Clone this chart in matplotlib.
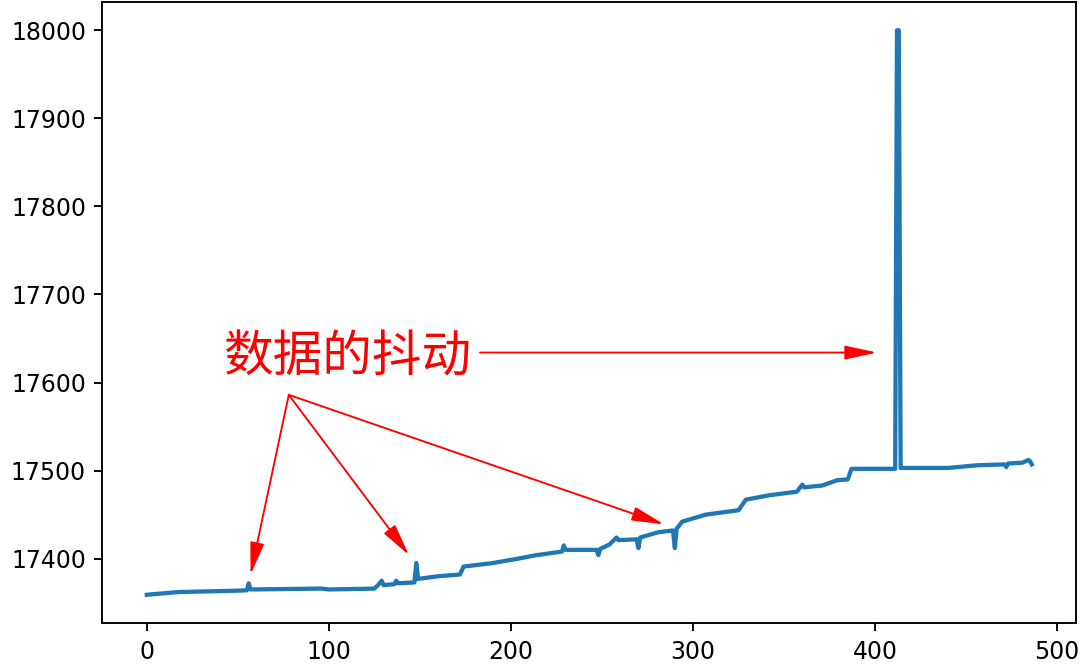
import matplotlib.pyplot as plt

plt.rcParams['font.family'] = ['DejaVu Sans']

# sample index / value pairs
idx = [0, 17, 47, 55, 56, 57, 96, 100, 125, 127, 129, 130, 136, 137, 138,
       147, 148, 149, 160, 172, 174, 190, 204, 214, 228, 229, 230, 247, 248,
       249, 254, 258, 259, 269, 270, 271, 281, 289, 290, 291, 294, 307, 325,
       329, 342, 357, 360, 361, 371, 379, 385, 387, 411, 412, 413, 414, 440,
       456, 471, 472, 473, 481, 484, 485, 486]
vals = [17359, 17362, 17363.5, 17364, 17372, 17365, 17366, 17365, 17366,
        17370, 17375, 17370, 17371, 17375, 17372, 17373, 17395, 17377, 17380,
        17382, 17391, 17395, 17400, 17404, 17408, 17415, 17410, 17410, 17404,
        17411, 17416, 17424, 17421, 17422, 17412, 17424, 17430, 17432, 17412,
        17434, 17442, 17450, 17455, 17467, 17472, 17476, 17484, 17481, 17483,
        17489, 17490, 17502, 17502, 18000, 18000, 17503, 17503, 17506, 17507,
        17504, 17508, 17509, 17512, 17511, 17507]

label = '数据的抖动'
label_pos = (110, 17629)
fan_from = (78, 17586)
fan_to = [(57, 17382), (144, 17404), (284, 17439)]
line_from = (183, 17634)
line_to = (401, 17634)

fig = plt.figure(figsize=(1080 / 170, 666 / 170), dpi=170)
ax = fig.add_axes([0.0949, 0.0646, 0.9014, 0.9324])
ax.plot(idx, vals, color='C0', lw=1.8)

arrow = dict(arrowstyle='-|>,head_length=0.55,head_width=0.12',
             color='red', lw=0.8, shrinkA=0, shrinkB=0)

ax.text(label_pos[0], label_pos[1], label, color='red', fontsize=21,
        ha='center', va='center', family=['Noto Sans CJK SC', 'DejaVu Sans'])
ax.annotate('', xy=line_to, xytext=line_from, arrowprops=arrow, fontsize=21)
for pt in fan_to:
    ax.annotate('', xy=pt, xytext=fan_from, arrowprops=arrow, fontsize=21)

fig.savefig('out.png', dpi=170)
